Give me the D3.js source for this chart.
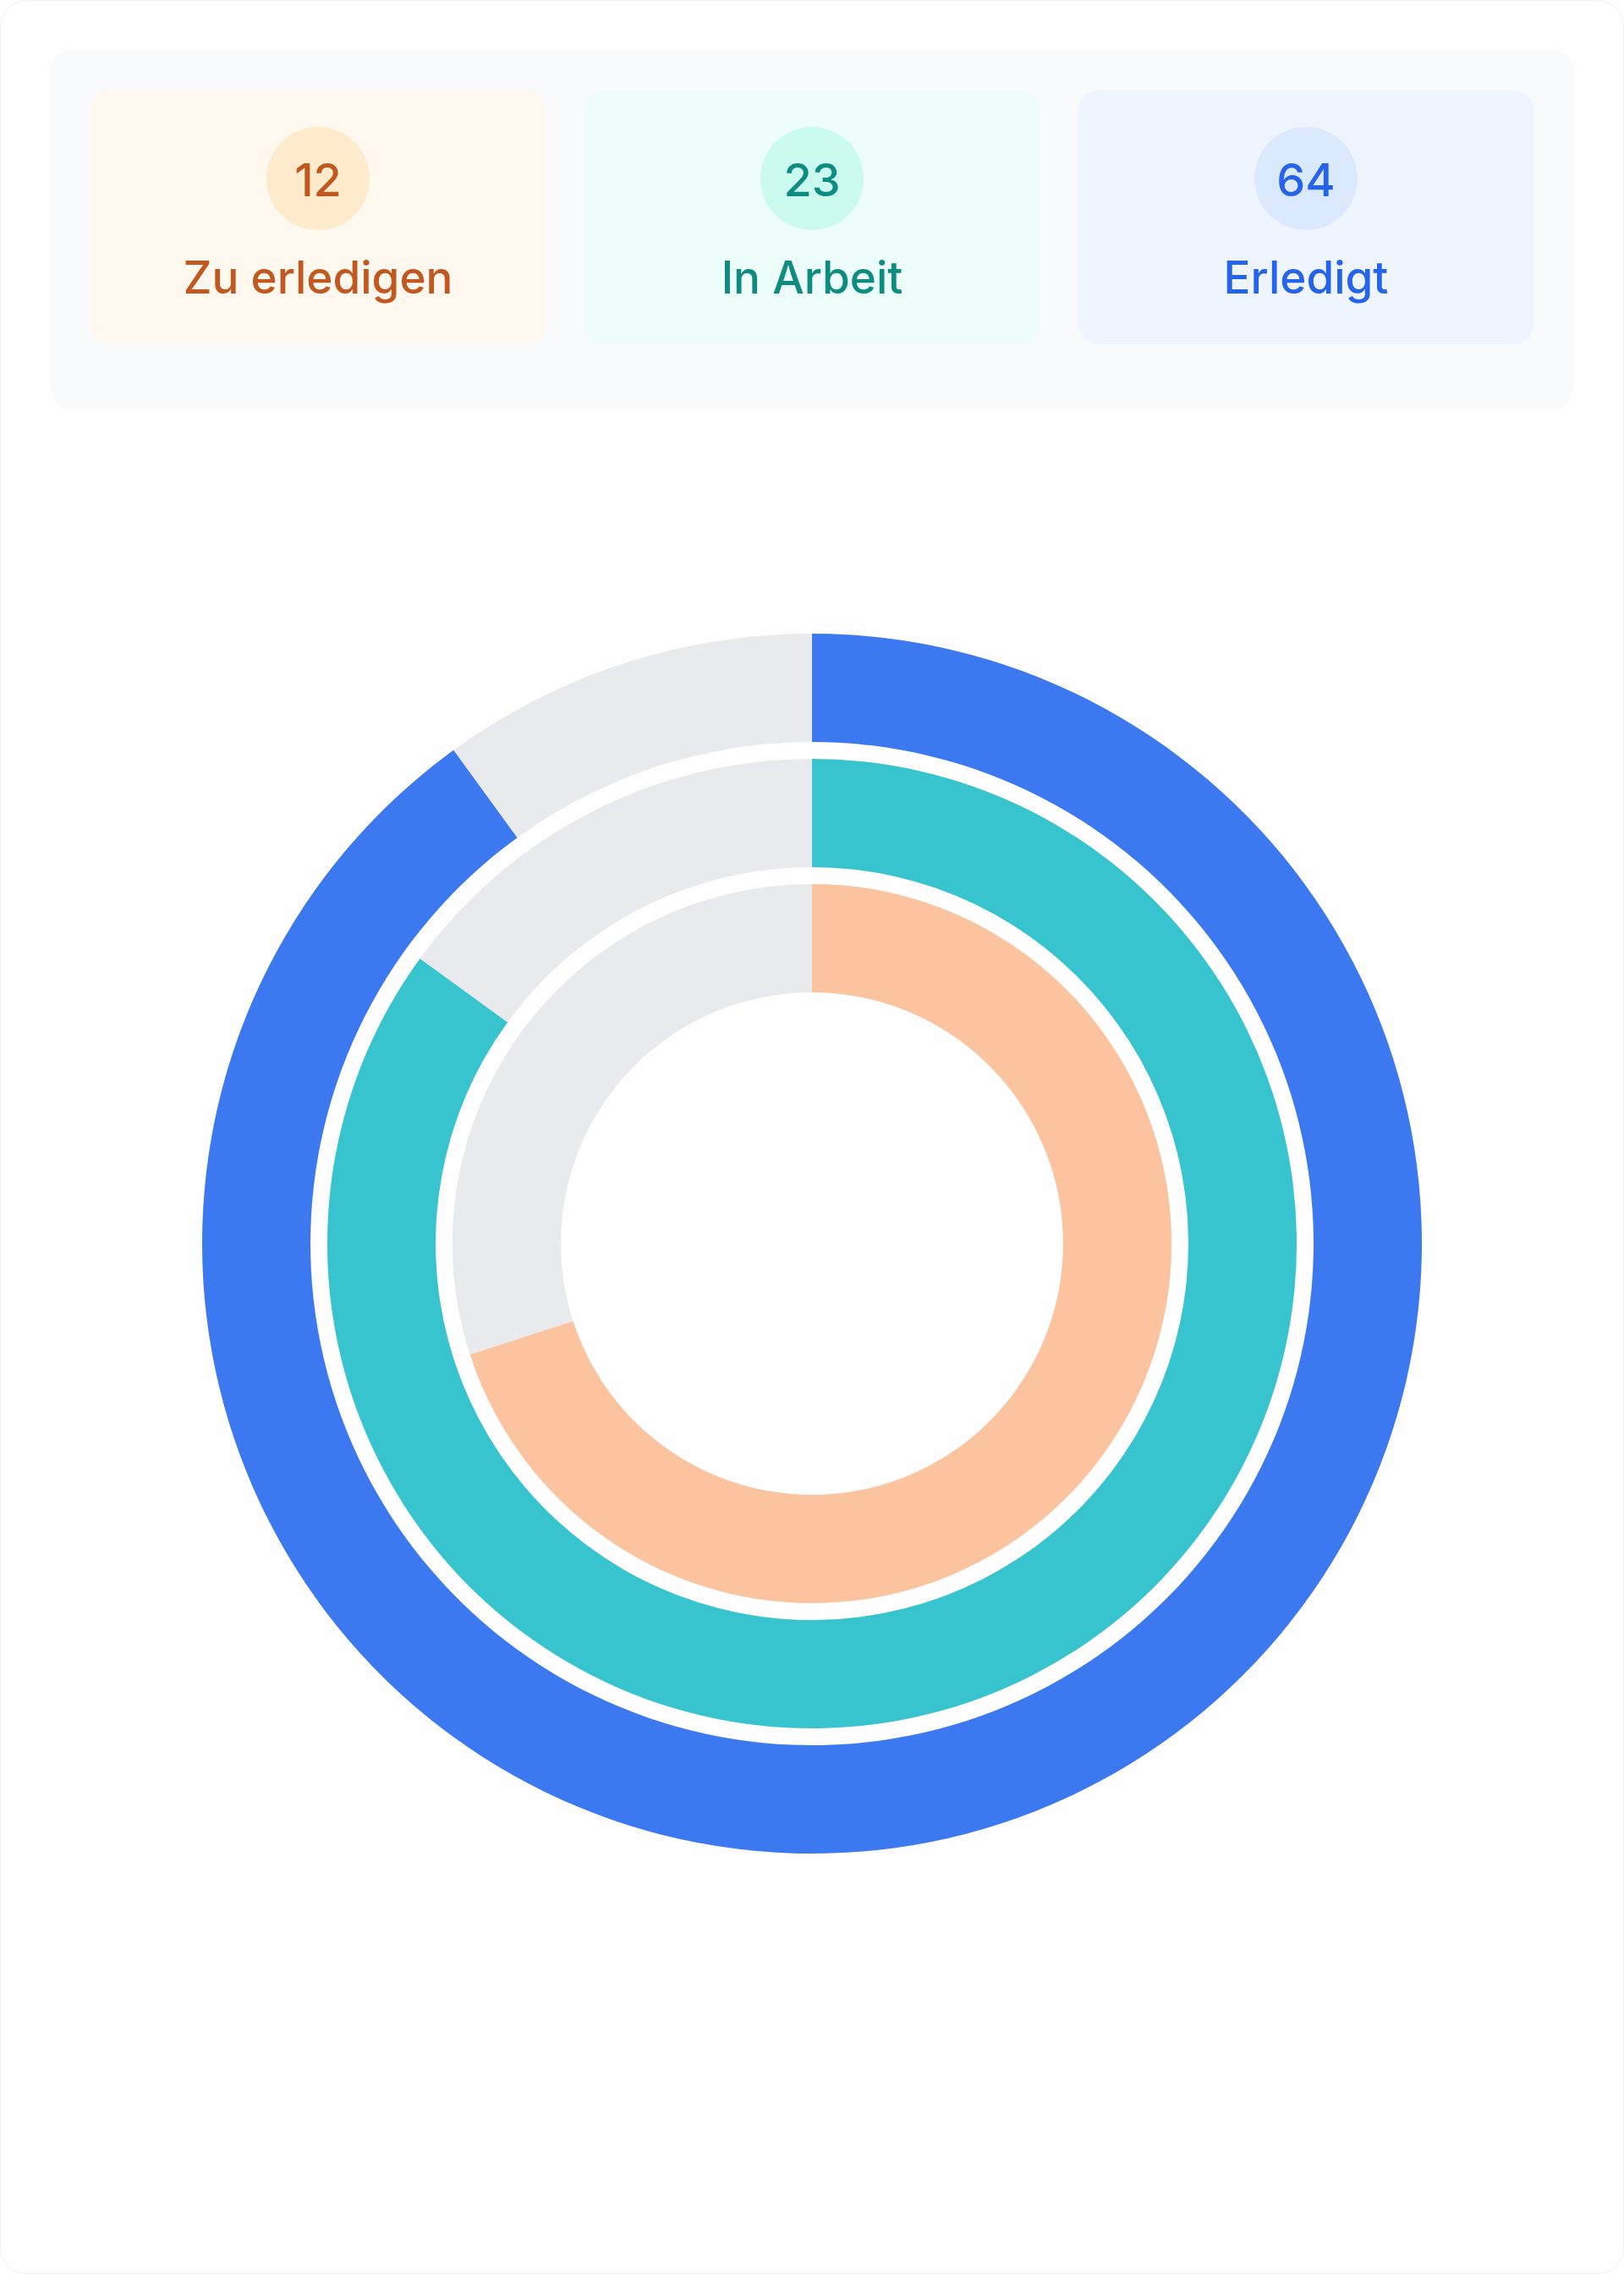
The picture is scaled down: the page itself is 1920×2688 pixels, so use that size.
<!DOCTYPE html>
<html lang="de">
<head>
<meta charset="utf-8">
<title>Aufgabenstatus</title>
<script src="https://cdn.jsdelivr.net/npm/d3@7/dist/d3.min.js"></script>
<style>
  html, body { margin: 0; padding: 0; background: #ffffff; overflow: hidden; }
  svg { display: block; font-family: Inter, "Noto Sans", sans-serif; }
</style>
</head>
<body>
<svg id="chart" width="1920" height="2688"></svg>
<script>
// Task status categories (inner ring to outer ring)
const categories = ["Zu erledigen", "In Arbeit", "Erledigt"];
// Number of tasks per status, shown in the summary cards
const counts = [12, 23, 64];
// Progress per status in percent, drawn as ring arcs
const progress = [70, 85, 90];

// Colour palette per status
const ringColors = ["#fbc39e", "#37c4cf", "#3c79f1"];
const cardFill = ["#fff8ee", "#edfdf9", "#eef5ff"];
const badgeFill = ["#feebcb", "#cbfaee", "#dbe9fe"];
const textColor = ["#c0581f", "#0f8c80", "#2563eb"];
const trackColor = "#e8eaed";

const W = 1920, H = 2688;
const svg = d3.select("#chart");

// Page frame
svg.append("rect")
  .attr("x", 0.5).attr("y", 0.5)
  .attr("width", W - 1).attr("height", H - 1)
  .attr("rx", 30)
  .attr("fill", "#fefefe")
  .attr("stroke", "#f1f1f1")
  .attr("stroke-width", 1);

// Summary panel
svg.append("rect")
  .attr("x", 60).attr("y", 60)
  .attr("width", 1800).attr("height", 423)
  .attr("rx", 24)
  .attr("fill", "#f8fafc");

const cardW = 539, cardH = 300, cardGap = 45;
const cardX = d3.scaleBand()
  .domain(categories)
  .range([960 - 1.5 * cardW - cardGap, 960 + 1.5 * cardW + cardGap])
  .paddingInner(cardGap / (cardW + cardGap));

const cards = svg.append("g").selectAll("g")
  .data(categories)
  .join("g")
  .attr("transform", d => `translate(${cardX(d)},107)`);

cards.append("rect")
  .attr("width", cardX.bandwidth())
  .attr("height", cardH)
  .attr("rx", 24)
  .attr("fill", (d, i) => cardFill[i]);

cards.append("circle")
  .attr("cx", cardX.bandwidth() / 2)
  .attr("cy", 104)
  .attr("r", 61)
  .attr("fill", (d, i) => badgeFill[i]);

cards.append("text")
  .attr("x", cardX.bandwidth() / 2)
  .attr("y", 125)
  .attr("text-anchor", "middle")
  .attr("font-size", 54)
  .attr("font-weight", 500)
  .attr("fill", (d, i) => textColor[i])
  .text((d, i) => counts[i]);

cards.append("text")
  .attr("x", cardX.bandwidth() / 2)
  .attr("y", 240)
  .attr("text-anchor", "middle")
  .attr("font-size", 53)
  .attr("font-weight", 500)
  .attr("fill", (d, i) => textColor[i])
  .text(d => d);

// Radial progress rings
const cx = 960, cy = 1470;
const radius = d3.scaleBand()
  .domain(categories)
  .range([297, 721])
  .paddingInner(20 / 148)
  .paddingOuter(0);

const angle = d3.scaleLinear().domain([0, 100]).range([0, 2 * Math.PI]);

const arc = d3.arc()
  .innerRadius(d => radius(d.cat))
  .outerRadius(d => radius(d.cat) + radius.bandwidth())
  .startAngle(0)
  .endAngle(d => angle(d.value));

const rings = svg.append("g").attr("transform", `translate(${cx},${cy})`);
const ringData = categories.map((c, i) => ({ cat: c, value: progress[i], i }));

rings.selectAll("path.track")
  .data(ringData.map(d => ({ ...d, value: 100 })))
  .join("path")
  .attr("class", "track")
  .attr("d", arc)
  .attr("fill", trackColor);

rings.selectAll("path.bar")
  .data(ringData)
  .join("path")
  .attr("class", "bar")
  .attr("d", arc)
  .attr("fill", d => ringColors[d.i]);
</script>
</body>
</html>
